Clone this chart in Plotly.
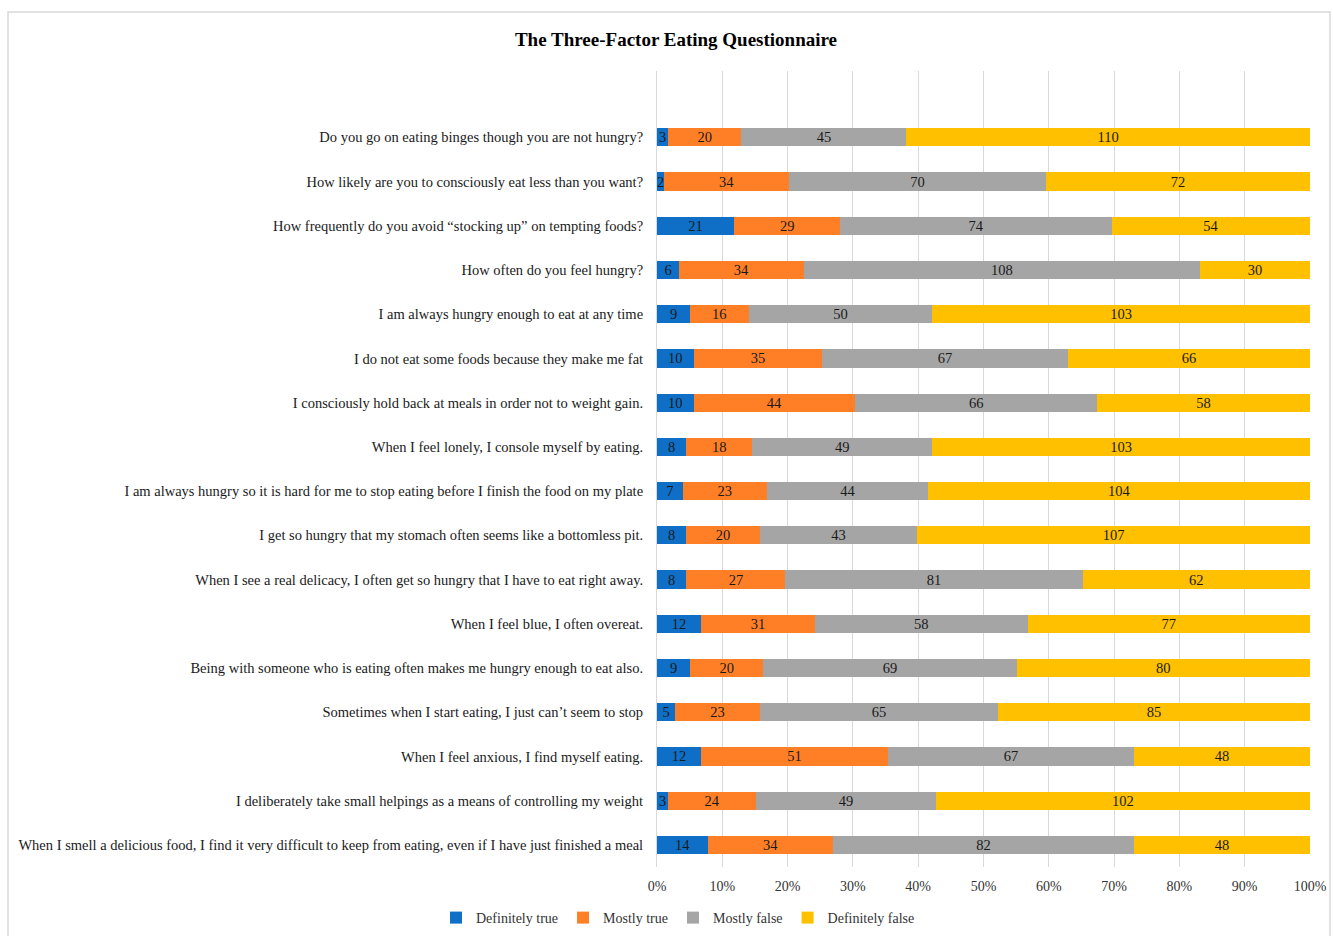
import plotly.graph_objects as go

questions = [
    "Do you go on eating binges though you are not hungry?",
    "How likely are you to consciously eat less than you want?",
    "How frequently do you avoid \u201cstocking up\u201d on tempting foods?",
    "How often do you feel hungry?",
    "I am always hungry enough to eat at any time",
    "I do not eat some foods because they make me fat",
    "I consciously hold back at meals in order not to weight gain.",
    "When I feel lonely, I console myself by eating.",
    "I am always hungry so it is hard for me to stop eating before I finish the food on my plate",
    "I get so hungry that my stomach often seems like a bottomless pit.",
    "When I see a real delicacy, I often get so hungry that I have to eat right away.",
    "When I feel blue, I often overeat.",
    "Being with someone who is eating often makes me hungry enough to eat also.",
    "Sometimes when I start eating, I just can\u2019t seem to stop",
    "When I feel anxious, I find myself eating.",
    "I deliberately take small helpings as a means of controlling my weight",
    "When I smell a delicious food, I find it very difficult to keep from eating, even if I have just finished a meal",
]
definitely_true = [3, 2, 21, 6, 9, 10, 10, 8, 7, 8, 8, 12, 9, 5, 12, 3, 14]
mostly_true = [20, 34, 29, 34, 16, 35, 44, 18, 23, 20, 27, 31, 20, 23, 51, 24, 34]
mostly_false = [45, 70, 74, 108, 50, 67, 66, 49, 44, 43, 81, 58, 69, 65, 67, 49, 82]
definitely_false = [110, 72, 54, 30, 103, 66, 58, 103, 104, 107, 62, 77, 80, 85, 48, 102, 48]

series = [
    ("Definitely true", definitely_true, "#0F6FC6"),
    ("Mostly true", mostly_true, "#FF7F27"),
    ("Mostly false", mostly_false, "#A5A5A5"),
    ("Definitely false", definitely_false, "#FFC000"),
]
tick_vals = list(range(0, 101, 10))
tick_text = [f"{v}%" for v in tick_vals]

FONT = "Liberation Serif"
W, H = 1333, 936
L, R, T, B = 657, 23, 71, 69

fig = go.Figure()
for name, vals, color in series:
    fig.add_trace(go.Bar(
        y=questions, x=vals, name=name, orientation="h",
        marker=dict(color=color, line=dict(width=0)),
        text=[str(v) for v in vals], textposition="inside",
        insidetextanchor="middle", textangle=0, constraintext="none",
        insidetextfont=dict(family=FONT, size=14.5, color="#1a1a1a"),
        hoverinfo="skip",
    ))

pw = W - L - R
ph = H - T - B
fig.add_shape(type="rect", xref="paper", yref="paper",
              x0=(8 - L) / pw, x1=(1330 - L) / pw,
              y0=(H - B - 945) / ph, y1=(H - B - 12) / ph,
              line=dict(color="#D9D9D9", width=1.5), fillcolor="rgba(0,0,0,0)", layer="below")

fig.update_layout(
    width=W, height=H,
    margin=dict(l=L, r=R, t=T, b=B, autoexpand=False),
    barmode="stack", barnorm="percent", bargap=0.59,
    paper_bgcolor="white", plot_bgcolor="white",
    font=dict(family=FONT, size=14.5, color="#1a1a1a"),
    title=dict(text="<b>The Three-Factor Eating Questionnaire</b>",
               font=dict(family=FONT, size=19, color="#000"),
               x=676 / W, xref="container", xanchor="center",
               y=1 - 39 / H, yref="container", yanchor="middle"),
    xaxis=dict(range=[0, 100], tickmode="array", tickvals=tick_vals, ticktext=tick_text,
               showgrid=True, gridcolor="#D9D9D9", gridwidth=1, automargin=False,
               zeroline=False, showline=False, ticks="", ticklabelstandoff=9,
               tickfont=dict(family=FONT, size=14, color="#333"), fixedrange=True),
    yaxis=dict(categoryorder="array", categoryarray=questions,
               range=[16.5, -1.5], showgrid=False, zeroline=False, automargin=False,
               showline=True, linecolor="#D9D9D9", linewidth=1,
               ticks="", ticklabelstandoff=10,
               tickfont=dict(family=FONT, size=14.5, color="#1a1a1a")),
    legend=dict(orientation="h", x=678 / W, xanchor="center", xref="container",
                y=1 - 918 / H, yanchor="middle", yref="container",
                itemwidth=30,
                font=dict(family=FONT, size=14, color="#333"), traceorder="normal"),
    showlegend=True,
)

fig.write_html("out.html")
